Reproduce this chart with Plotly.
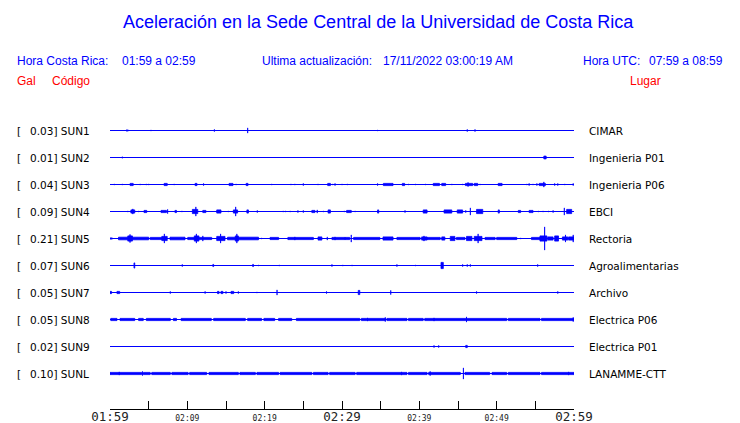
import plotly.graph_objects as go

# ---------------- data ----------------
CODES = ["SUN1", "SUN2", "SUN3", "SUN4", "SUN5", "SUN6", "SUN7", "SUN8", "SUN9", "SUNL"]
GALS = [0.03, 0.01, 0.04, 0.09, 0.21, 0.07, 0.05, 0.05, 0.02, 0.10]
PLACES = ["CIMAR", "Ingenieria P01", "Ingenieria P06", "EBCI", "Rectoria",
          "Agroalimentarias", "Archivo", "Electrica P06", "Electrica P01", "LANAMME-CTT"]

# minutes after 01:59 ; tick labels
TICK_MINUTES = [0, 5, 10, 15, 20, 25, 30, 35, 40, 45, 50, 55, 60]
TICK_LABELS = ["01:59", "", "02:09", "", "02:19", "", "02:29", "", "02:39", "", "02:49", "", "02:59"]
MAJOR_LABELS = ["01:59", "02:29", "02:59"]

# seismic activity per station: (start minute, end minute, half amplitude, relative units)
SUN1 = [(2.2, 2.2, 1.5), (2.4, 2.4, 1), (5.3, 5.3, 1), (13.5, 13.5, 1.5), (17.8, 17.8, 3),
        (34.6, 34.6, 1), (46.2, 46.2, 1.5), (47.2, 47.2, 1.5)]
SUN2 = [(1.6, 1.6, 1.2), (56.1, 56.4, 1.8)]
SUN3 = [(0.56, 0.56, 1), (1.6, 1.6, 1), (2.6, 3.0, 1.5), (3.9, 3.9, 1), (4.7, 4.7, 1), (5.0, 5.0, 1),
        (7.0, 7.4, 1.5), (8.3, 8.3, 1), (11.0, 11.25, 1.5), (12.1, 12.1, 1.5), (15.4, 15.9, 1.5),
        (16.3, 16.3, 1), (17.6, 17.85, 1.5), (20.9, 20.9, 1), (23.4, 23.4, 1), (23.9, 23.9, 1),
        (25.0, 25.0, 1.5), (26.9, 26.9, 1), (28.15, 28.5, 1.5), (28.8, 28.8, 1), (29.1, 29.1, 1.5),
        (30.0, 30.0, 1), (30.7, 30.7, 1), (34.6, 34.6, 1.5), (35.35, 36.6, 1.5), (37.8, 38.1, 1.5),
        (38.6, 38.6, 1), (39.5, 39.5, 1), (40.8, 40.8, 1), (41.8, 42.6, 1.5), (42.9, 43.4, 1.5),
        (44.2, 44.2, 1), (45.6, 45.6, 1), (45.95, 46.9, 1.5), (46.3, 46.3, 2.5), (47.1, 47.55, 1.5),
        (47.85, 47.85, 1), (50.2, 50.7, 1.5), (53.9, 53.9, 1), (54.2, 54.2, 1.5), (54.7, 54.7, 1),
        (55.2, 55.2, 1.5), (55.5, 56.3, 1.5), (56.1, 56.1, 3), (57.5, 57.5, 1.5), (57.9, 57.9, 1.5),
        (58.8, 58.8, 1), (59.9, 59.9, 1.5)]
SUN4 = [(2.3, 2.3, 1), (2.7, 3.2, 2), (2.95, 2.95, 3), (3.7, 3.7, 1), (4.4, 4.75, 1.5), (6.6, 7.3, 1.5),
        (7.45, 7.45, 2.5), (8.4, 8.6, 1.5), (9.3, 9.3, 1), (10.65, 11.35, 2.5), (11.1, 11.1, 5),
        (12.0, 12.4, 1.5), (13.8, 14.35, 2), (15.3, 15.3, 1), (15.95, 16.5, 2), (16.25, 16.25, 5),
        (17.7, 17.9, 2), (19.05, 19.05, 1.5), (22.4, 22.4, 1), (22.7, 22.7, 1), (23.3, 23.3, 1),
        (24.3, 24.3, 1.5), (25.0, 25.0, 1.5), (26.1, 26.5, 1.5), (26.8, 26.8, 2), (27.6, 27.6, 1),
        (28.2, 28.5, 2), (30.3, 30.3, 1), (30.6, 31.2, 1.5), (31.7, 31.7, 1), (34.6, 34.75, 2),
        (38.15, 38.15, 1.5), (40.5, 41.0, 2), (43.2, 44.2, 2), (44.9, 45.6, 2), (46.0, 46.0, 1.5),
        (46.6, 46.6, 4), (47.4, 48.2, 2.5), (50.2, 50.35, 2), (52.8, 53.1, 1.5), (54.2, 54.7, 1.5),
        (55.4, 55.4, 1), (56.0, 56.0, 1), (56.7, 56.7, 1), (57.3, 57.3, 1.5), (58.75, 58.75, 4),
        (59.05, 59.7, 2.5)]
SUN5 = [(0.0, 0.3, 1), (1.1, 5.0, 1.7), (2.3, 2.9, 3), (2.59, 2.59, 4.5), (5.2, 6.7, 1.5), (6.7, 7.4, 2.5),
        (7.03, 7.03, 5), (7.76, 9.7, 1.7), (10.05, 13.15, 1.5), (10.9, 11.5, 3), (11.17, 11.17, 5),
        (12.0, 12.0, 3), (13.8, 14.87, 2.5), (14.3, 14.3, 5), (15.2, 19.2, 1.7), (16.2, 16.6, 3),
        (16.4, 16.4, 5), (19.6, 19.6, 1), (20.7, 21.8, 1.5), (23.0, 26.3, 1.5), (23.9, 23.9, 2),
        (26.9, 27.4, 2), (28.1, 28.1, 2), (28.7, 30.4, 1.5), (29.1, 29.1, 2), (30.4, 31.0, 1.5),
        (31.2, 31.2, 4), (31.5, 34.9, 1.5), (35.3, 36.6, 2), (37.1, 40.1, 1.5), (40.3, 41.0, 2),
        (40.6, 40.6, 3), (41.0, 42.7, 1.5), (42.9, 43.3, 2), (44.0, 44.6, 2.5), (44.8, 45.9, 1.5),
        (46.1, 46.8, 2.5), (47.1, 48.1, 2.5), (47.6, 47.6, 5), (48.5, 49.8, 1.5), (50.0, 52.6, 1.5),
        (53.1, 53.1, 1), (54.5, 55.6, 1.5), (55.6, 56.5, 3), (56.2, 56.2, 12), (56.6, 57.3, 2),
        (57.5, 58.0, 3), (58.5, 59.2, 2), (58.9, 58.9, 4), (59.3, 60.0, 2), (59.9, 59.9, 4)]
SUN6 = [(3.1, 3.2, 3), (9.35, 9.35, 1.5), (13.3, 13.4, 1.5), (18.45, 18.55, 1.5), (19.2, 19.2, 1),
        (21.9, 21.9, 1), (23.3, 23.3, 0.8), (25.0, 25.0, 0.8), (28.7, 28.7, 1.5), (30.1, 30.1, 1),
        (31.3, 31.3, 1), (37.1, 37.1, 1.5), (39.5, 39.5, 1), (42.8, 43.1, 3.5), (45.6, 45.6, 1.5),
        (46.2, 46.2, 1.5), (46.6, 46.6, 1.5), (55.3, 55.3, 1.5)]
SUN7 = [(0.0, 0.2, 1.5), (0.9, 1.25, 1.5), (7.8, 7.8, 1.5), (12.3, 12.3, 1.5), (13.9, 14.1, 1.5),
        (14.35, 14.6, 1.5), (15.0, 15.0, 1.5), (15.65, 16.0, 1.5), (16.6, 16.6, 1.5), (19.0, 19.0, 1),
        (21.6, 21.6, 3), (28.0, 28.0, 1.5), (32.1, 32.3, 2.5), (36.3, 36.3, 2.5), (47.4, 47.4, 1.5),
        (57.9, 57.9, 1.5)]
SUN8 = [(0.1, 0.9, 1.5), (1.3, 3.2, 1.5), (3.7, 4.3, 1.5), (4.7, 7.8, 1.5), (8.2, 8.6, 1.5),
        (9.2, 13.1, 1.5), (13.4, 17.5, 1.5), (17.8, 19.6, 1.5), (19.9, 21.3, 1.5), (21.8, 23.5, 1.5),
        (24.1, 32.3, 1.5), (32.5, 35.6, 1.5), (35.8, 38.4, 1.5), (38.6, 40.5, 1.5), (40.7, 51.3, 1.5),
        (51.5, 55.6, 1.5), (55.8, 60.0, 1.5), (33.3, 33.3, 2), (35.6, 35.6, 2.5), (41.9, 41.9, 2),
        (46.1, 46.1, 3), (59.9, 59.9, 2.5)]
SUN9 = [(41.9, 41.9, 1.5), (42.5, 42.5, 1.5), (46.0, 46.2, 1.5)]
SUNL = [(0.0, 4.1, 1.5), (4.3, 5.2, 1.5), (5.4, 7.8, 1.5), (8.0, 10.1, 1.5), (10.3, 12.5, 1.5),
        (12.8, 16.6, 1.5), (16.8, 18.8, 1.5), (19.0, 21.8, 1.5), (22.0, 26.1, 1.5), (26.3, 28.2, 1.5),
        (28.4, 31.7, 1.5), (31.9, 38.4, 1.5), (38.6, 41.0, 1.5), (41.2, 45.3, 1.5), (45.9, 49.1, 1.5),
        (49.4, 51.3, 1.5), (51.5, 55.6, 1.5), (55.8, 60.0, 1.5), (1.2, 1.2, 2), (4.2, 4.2, 2.5),
        (37.7, 37.7, 2), (41.4, 41.4, 2.5), (45.7, 45.7, 6), (59.3, 59.3, 2)]
ACTIVITY = [SUN1, SUN2, SUN3, SUN4, SUN5, SUN6, SUN7, SUN8, SUN9, SUNL]

# ---------------- layout constants ----------------
W, H = 740, 423
L, R, T, B = 110, 166, 90, 14
PW, PH = W - L - R, H - T - B
ROW0, ROW_STEP = 130.5, 27        # pixel row (centre) of first station, spacing
AMP_SCALE = 1.0 / ROW_STEP
STROKE = 0.8                      # outline width of the activity marks
BLUE = "#0000FF"
RED = "#FF0000"


def fx(X):
    return (X - L) / PW


def fy(Y):
    return (H - B - Y) / PH


fig = go.Figure()

for i, events in enumerate(ACTIVITY):
    # baseline
    fig.add_trace(go.Scatter(x=[TICK_MINUTES[0], TICK_MINUTES[-1]], y=[i, i], mode="lines",
                             line=dict(color=BLUE, width=1.1), hoverinfo="skip", showlegend=False))
    xs, ys = [], []
    for t0, t1, a in events:
        d = max(a - STROKE / 2, 0.1) * AMP_SCALE
        xs += [t0, t1, t1, t0, t0, None]
        ys += [i - d, i - d, i + d, i + d, i - d, None]
    fig.add_trace(go.Scatter(x=xs, y=ys, mode="lines", fill="toself", fillcolor=BLUE,
                             line=dict(color=BLUE, width=STROKE), hoverinfo="skip", showlegend=False))

ann = []
lab_font = dict(family="DejaVu Sans", size=10.5, color="black")
for i, (code, gal, place) in enumerate(zip(CODES, GALS, PLACES)):
    ann.append(dict(x=fx(15), y=i, xref="paper", yref="y", text="[", showarrow=False,
                    xanchor="left", yanchor="middle", font=lab_font))
    ann.append(dict(x=fx(27.5), y=i, xref="paper", yref="y", text=f"{gal:.2f}] {code}",
                    showarrow=False, xanchor="left", yanchor="middle", font=lab_font))
    ann.append(dict(x=fx(587), y=i, xref="paper", yref="y", text=place, showarrow=False,
                    xanchor="left", yanchor="middle", font=lab_font))

hdr = dict(family="Liberation Sans, Arial", size=12, color=BLUE)
red = dict(family="Liberation Sans, Arial", size=12, color=RED)


def txt(X, Y, s, font, anchor="left"):
    ann.append(dict(x=fx(X), y=fy(Y), xref="paper", yref="paper", text=s, showarrow=False,
                    xanchor=anchor, yanchor="middle", font=font))


txt(378, 22, "Aceleración en la Sede Central de la Universidad de Costa Rica",
    dict(family="Liberation Sans, Arial", size=18, color=BLUE), "center")
txt(15, 61, "Hora Costa Rica:", hdr)
txt(120, 61, "01:59 a 02:59", hdr)
txt(260, 61, "Ultima actualización:", hdr)
txt(381, 61, "17/11/2022 03:00:19 AM", hdr)
txt(581, 61, "Hora UTC:", hdr)
txt(725, 61, "07:59 a 08:59", hdr, "right")
txt(15, 81, "Gal", red)
txt(50, 81, "Código", red)
txt(663, 81, "Lugar", red, "right")

ticktext = []
for lab in TICK_LABELS:
    if lab == "":
        ticktext.append("")
    elif lab in MAJOR_LABELS:
        ticktext.append(f'<span style="font-size:12.5px">{lab}</span>')
    else:
        ticktext.append(f'<span style="font-size:8px">{lab}</span>')

fig.update_layout(
    width=W, height=H, margin=dict(l=L, r=R, t=T, b=B, pad=0, autoexpand=False),
    paper_bgcolor="white", plot_bgcolor="white",
    annotations=ann, showlegend=False,
    xaxis=dict(range=[TICK_MINUTES[0], TICK_MINUTES[-1]], tickmode="array", tickvals=TICK_MINUTES,
               ticktext=ticktext, ticks="inside", ticklen=8, tickwidth=1, tickcolor="black",
               showline=True, linecolor="black", linewidth=1, showgrid=False, zeroline=False,
               tickfont=dict(family="DejaVu Sans Mono", size=12, color="#222222"), tickangle=0,
               ticklabelstandoff=-3, fixedrange=True, automargin=False),
    yaxis=dict(range=[(H - B - ROW0) / ROW_STEP, (T - ROW0) / ROW_STEP], showgrid=False,
               zeroline=False, showticklabels=False, showline=False, ticks="", fixedrange=True,
               automargin=False),
)

fig.write_html("out.html", config={"displayModeBar": False},
               post_script="document.body.style.margin='0';document.body.style.padding='0';"
                           "document.body.style.overflow='hidden';")
